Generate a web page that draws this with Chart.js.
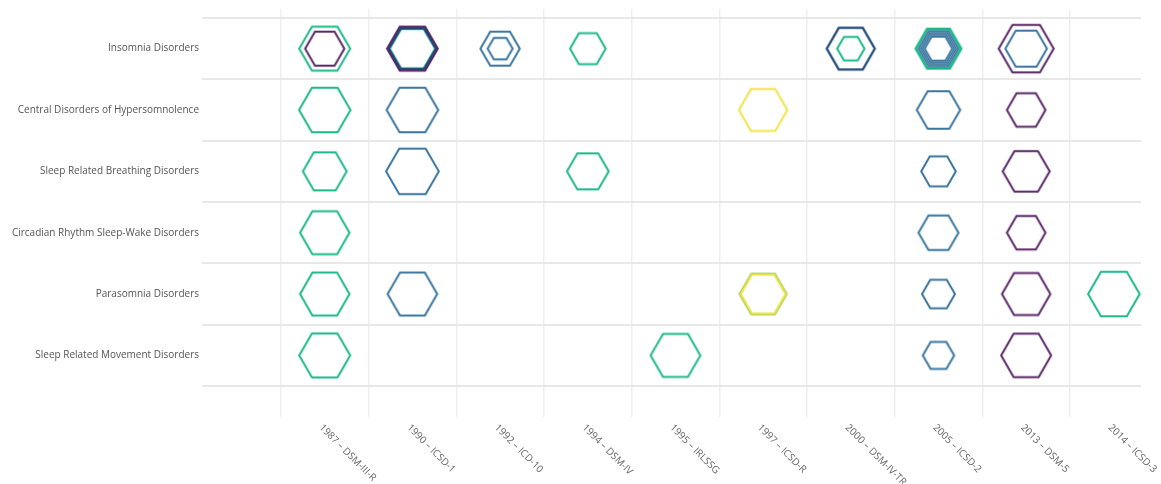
<!DOCTYPE html>
<html>
<head>
<meta charset="utf-8">
<script src="https://cdn.jsdelivr.net/npm/chart.js@4"></script>
<style>
  html, body { margin: 0; padding: 0; background: #ffffff; }
  #wrap { width: 1161px; height: 484px; position: relative; }
</style>
</head>
<body>
<div id="wrap"><canvas id="c"></canvas></div>
<script>
// ---- Data ----
const manuals = ['1987 – DSM-III-R', '1990 – ICSD-1', '1992 – ICD-10', '1994 – DSM-IV', '1995 – IRLSSG',
                 '1997 – ICSD-R', '2000 – DSM-IV-TR', '2005 – ICSD-2', '2013 – DSM-5', '2014 – ICSD-3'];
const disorders = ['Insomnia Disorders', 'Central Disorders of Hypersomnolence', 'Sleep Related Breathing Disorders',
                   'Circadian Rhythm Sleep-Wake Disorders', 'Parasomnia Disorders', 'Sleep Related Movement Disorders'];

// each entry: [manual index, disorder index, hexagon value]
const greenSeries = [[0,0,25.5],[0,1,25.7],[0,2,21.9],[0,3,24.7],[0,4,24.7],[0,5,25.5],[1,0,22.8],
                     [3,0,17.8],[3,2,20.9],[4,5,24.9],[6,0,13.7],[7,0,23.0],[7,0,21.8],[9,4,25.8]];
const blueSeries = [[1,1,25.8],[1,2,26.4],[1,4,24.8],[2,0,19.7],[2,0,12.5],[7,0,19.8],[7,0,17.8],[7,0,15.8],
                    [7,0,13.8],[7,1,21.7],[7,2,17.3],[7,3,20.0],[7,4,16.5],[7,5,15.7],[8,0,20.8]];
const navySeries = [[1,0,24.2],[1,0,23.6],[6,0,24.0]];
const purpleSeries = [[0,0,19.6],[1,0,25.4],[8,0,27.5],[8,1,19.3],[8,2,23.5],[8,3,19.3],[8,4,24.2],[8,5,25.0]];
const limeSeries = [[5,4,23.4]];
const yellowSeries = [[5,1,24.2],[5,4,22.5]];

// ---- Hexagon point style (flat-top) ----
const hexCache = {};
function hexImage(r, color, lw) {
  const key = r + '|' + color + '|' + lw;
  if (hexCache[key]) return hexCache[key];
  const s = Math.ceil(2 * r + lw + 4);
  const cv = document.createElement('canvas');
  cv.width = s; cv.height = s;
  const g = cv.getContext('2d');
  g.strokeStyle = color;
  g.lineWidth = lw;
  g.lineJoin = 'miter';
  g.beginPath();
  for (let k = 0; k < 6; k++) {
    const a = k * Math.PI / 3;
    const px = s / 2 + r * Math.cos(a), py = s / 2 + r * Math.sin(a);
    if (k === 0) g.moveTo(px, py); else g.lineTo(px, py);
  }
  g.closePath();
  g.stroke();
  hexCache[key] = cv;
  return cv;
}

function makeDataset(label, series, color, lw) {
  return {
    label: label,
    data: series.map(p => ({ x: p[0], y: p[1], v: p[2] })),
    pointStyle: series.map(p => hexImage(p[2], color, lw)),
    pointRadius: series.map(p => p[2]),
    showLine: false
  };
}

// first dataset is drawn on top
const datasets = [
  makeDataset('Yellow', yellowSeries, '#f2e244', 2),
  makeDataset('Lime', limeSeries, '#8fcb55', 2.2),
  makeDataset('Purple', purpleSeries, '#5a2768', 2),
  makeDataset('Navy', navySeries, '#1f4b79', 2.3),
  makeDataset('Blue', blueSeries, '#3a76a0', 2),
  makeDataset('Green', greenSeries, '#1cb98a', 2)
];

const xLabelPlugin = {
  id: 'xLabels',
  afterDraw(chart) {
    const ctx = chart.ctx;
    const xs = chart.scales.x;
    ctx.save();
    ctx.font = '10px "Open Sans"';
    ctx.fillStyle = '#666666';
    ctx.textAlign = 'left';
    ctx.textBaseline = 'middle';
    manuals.forEach((m, i) => {
      const px = xs.getPixelForValue(i);
      ctx.save();
      ctx.translate(px - 4, chart.chartArea.bottom + 9);
      ctx.rotate(Math.PI / 4);
      ctx.fillText(m, 0, 0);
      ctx.restore();
    });
    ctx.restore();
  }
};

new Chart(document.getElementById('c'), {
  type: 'scatter',
  data: { datasets: datasets },
  plugins: [xLabelPlugin],
  options: {
    responsive: true,
    maintainAspectRatio: false,
    animation: false,
    events: [],
    layout: { autoPadding: false, padding: { left: 0, right: 20, top: 5, bottom: 0 } },
    plugins: { legend: { display: false }, tooltip: { enabled: false } },
    scales: {
      x: {
        type: 'linear',
        min: -1.40,
        max: 9.31,
        afterBuildTicks: (s) => { s.ticks = manuals.map((_, i) => ({ value: i })); },
        afterFit: (s) => { s.height = 67; },
        ticks: { display: false },
        grid: { offset: true, drawTicks: false, color: '#efefef', lineWidth: 1.5 },
        border: { display: false }
      },
      y: {
        type: 'linear',
        reverse: true,
        min: -0.646,
        max: 6.004,
        afterBuildTicks: (s) => { s.ticks = disorders.map((_, i) => ({ value: i })); },
        afterFit: (s) => { s.width = 202; },
        ticks: {
          autoSkip: false,
          padding: 3,
          color: '#555555',
          font: { family: 'Open Sans', size: 10 },
          callback: (v) => disorders[v]
        },
        grid: { offset: true, drawTicks: false, color: '#e8e8e8', lineWidth: 2 },
        border: { display: false }
      }
    }
  }
});
</script>
</body>
</html>
